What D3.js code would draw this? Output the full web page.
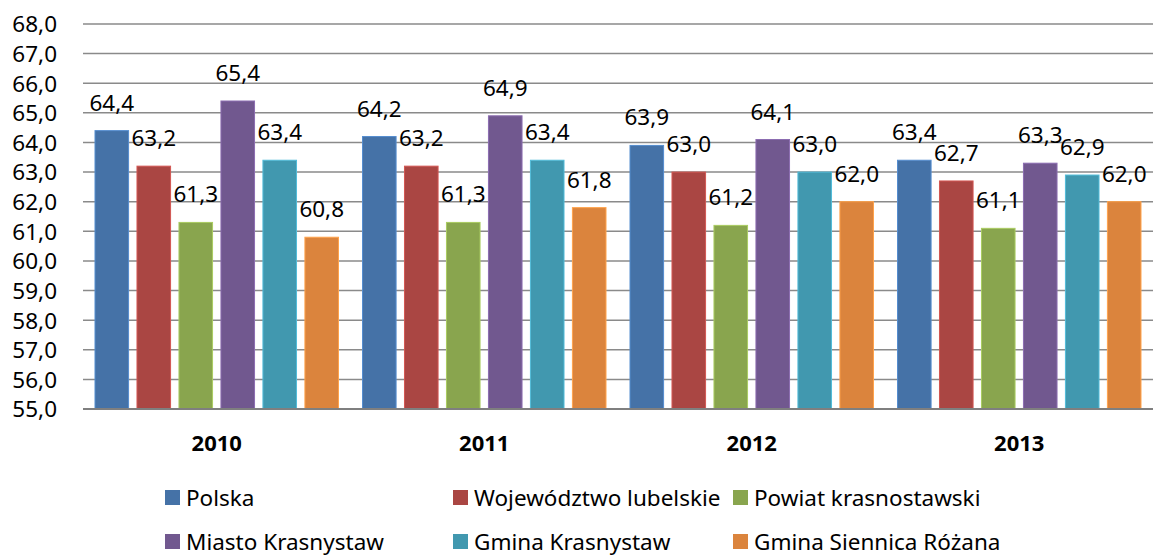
<!DOCTYPE html>
<html>
<head>
<meta charset="utf-8">
<script src="https://cdn.jsdelivr.net/npm/d3@7"></script>
<style>
  body { margin: 0; background: #fff; }
  text { font-family: "Noto Sans", "Open Sans", sans-serif; fill: #000; }
</style>
</head>
<body>
<div id="chart"></div>
<script>
let years = ["2010", "2011", "2012", "2013"];
let seriesNames = ["Polska", "Województwo lubelskie", "Powiat krasnostawski",
                   "Miasto Krasnystaw", "Gmina Krasnystaw", "Gmina Siennica Różana"];
let polska = [64.4, 64.2, 63.9, 63.4];
let wojewodztwo = [63.2, 63.2, 63.0, 62.7];
let powiat = [61.3, 61.3, 61.2, 61.1];
let miasto = [65.4, 64.9, 64.1, 63.3];
let gminaKrasnystaw = [63.4, 63.4, 63.0, 62.9];
let gminaSiennica = [60.8, 61.8, 62.0, 62.0];
let yTicks = d3.range(55, 68.01, 1);
let colors = ["#4572A7", "#AA4643", "#89A54E", "#71588F", "#4198AF", "#DB843D"];

let allSeries = [polska, wojewodztwo, powiat, miasto, gminaKrasnystaw, gminaSiennica];

let width = 1153, height = 559;
let margin = { top: 24, right: 0, bottom: 150, left: 83 };
let plotW = width - margin.left - margin.right;
let plotH = height - margin.top - margin.bottom;

let fmt = v => v.toFixed(1).replace(".", ",");

let svg = d3.select("#chart").append("svg")
  .attr("width", width)
  .attr("height", height);

let g = svg.append("g")
  .attr("transform", "translate(" + margin.left + "," + margin.top + ")");

let y = d3.scaleLinear().domain([55, 68]).range([plotH, 0]);
let x0 = d3.scaleBand().domain(years).range([0, plotW]);
let x1 = d3.scaleBand().domain(seriesNames)
  .range([12, x0.bandwidth() - 12])
  .paddingInner(0.2);

// gridlines
g.append("g")
  .selectAll("line")
  .data(yTicks.filter(t => t > 55))
  .enter().append("line")
  .attr("x1", 0)
  .attr("x2", plotW)
  .attr("y1", d => y(d))
  .attr("y2", d => y(d))
  .style("stroke", "#8a8a8a")
  .style("stroke-width", 1.5);

// y axis labels
let yAxis = d3.axisLeft(y).tickValues(yTicks).tickFormat(fmt).tickSize(0).tickPadding(26);
g.append("g")
  .call(yAxis)
  .call(s => s.select(".domain").remove())
  .selectAll("text")
  .style("font-size", "22.5px")
  .attr("dy", "0.35em");

// bars
let groups = g.selectAll("g.year")
  .data(years)
  .enter().append("g")
  .attr("class", "year")
  .attr("transform", d => "translate(" + x0(d) + ",0)");

groups.each(function (year, yi) {
  let grp = d3.select(this);
  let vals = seriesNames.map((name, si) => ({ name: name, si: si, v: allSeries[si][yi] }));

  grp.selectAll("rect")
    .data(vals)
    .enter().append("rect")
    .attr("x", d => x1(d.name))
    .attr("y", d => y(d.v))
    .attr("width", x1.bandwidth())
    .attr("height", d => plotH - y(d.v))
    .style("fill", d => colors[d.si])
    .style("stroke", d => d3.color(colors[d.si]).brighter(0.6))
    .style("stroke-width", 1);

  grp.selectAll("text.lbl")
    .data(vals)
    .enter().append("text")
    .attr("class", "lbl")
    .attr("x", d => x1(d.name) + x1.bandwidth() / 2)
    .attr("y", d => y(d.v) - 20)
    .attr("text-anchor", "middle")
    .style("font-size", "22.5px")
    .text(d => fmt(d.v));
});

// x axis line
g.append("line")
  .attr("x1", 0)
  .attr("x2", plotW)
  .attr("y1", plotH)
  .attr("y2", plotH)
  .style("stroke", "#7f7f7f")
  .style("stroke-width", 2);

// x axis labels
g.selectAll("text.year")
  .data(years)
  .enter().append("text")
  .attr("class", "year")
  .attr("x", d => x0(d) + x0.bandwidth() / 2)
  .attr("y", plotH + 42)
  .attr("text-anchor", "middle")
  .style("font-size", "22px")
  .style("font-weight", "bold")
  .text(d => d);

// legend
let legendCols = [165, 453, 733];
let legendRows = [498, 542];
let legend = svg.selectAll("g.legend")
  .data(seriesNames)
  .enter().append("g")
  .attr("class", "legend")
  .attr("transform", (d, i) => "translate(" + legendCols[i % 3] + "," + legendRows[Math.floor(i / 3)] + ")");

legend.append("rect")
  .attr("x", 0)
  .attr("y", -8)
  .attr("width", 15)
  .attr("height", 15)
  .style("fill", (d, i) => colors[i]);

legend.append("text")
  .attr("x", 21)
  .attr("y", 0)
  .attr("dy", "0.35em")
  .style("font-size", "22.5px")
  .text(d => d);
</script>
</body>
</html>
